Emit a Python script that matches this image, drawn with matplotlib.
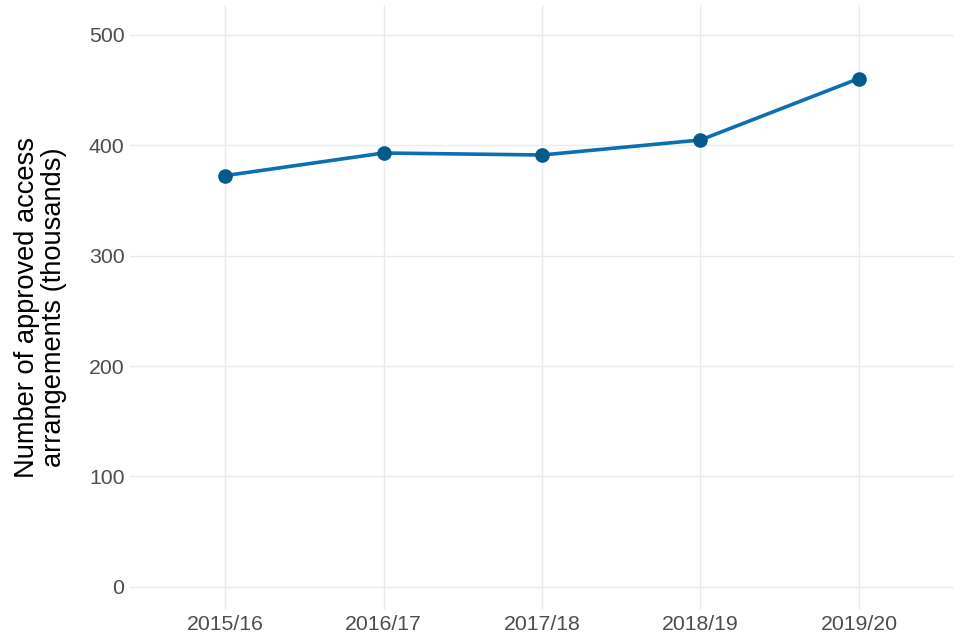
import matplotlib
matplotlib.use('Agg')
import matplotlib.pyplot as plt

years = ['2015/16', '2016/17', '2017/18', '2018/19', '2019/20']
arrangements = [372.5, 393, 391.2, 404.8, 460.5]
y_ticks = [0, 100, 200, 300, 400, 500]

plt.rcParams['font.family'] = ['Liberation Sans', 'DejaVu Sans']

fig = plt.figure(figsize=(9.6, 6.4), dpi=100)
ax = fig.add_axes([0.1354, 0.047, 0.8584, 0.945])

x = list(range(len(years)))
ax.plot(x, arrangements, color='#0b6fb1', linewidth=2.6, zorder=3)
ax.plot(x, arrangements, 'o', color='#045a8d', markersize=9.5, zorder=4)

ax.set_xlim(-0.6, 4.6)
ax.set_ylim(-21, 527)
ax.set_xticks(x)
ax.set_xticklabels(years)
ax.set_yticks(y_ticks)

ax.grid(True, color='#ebebeb', linewidth=1)
ax.set_axisbelow(True)
for s in ax.spines.values():
    s.set_visible(False)
ax.tick_params(length=0, labelsize=15.3, labelcolor='#4d4d4d', pad=4)

ax.set_ylabel('Number of approved access\narrangements (thousands)',
              fontsize=19.6, color='black', labelpad=16, linespacing=1.05)

fig.savefig('out.png', dpi=100)
